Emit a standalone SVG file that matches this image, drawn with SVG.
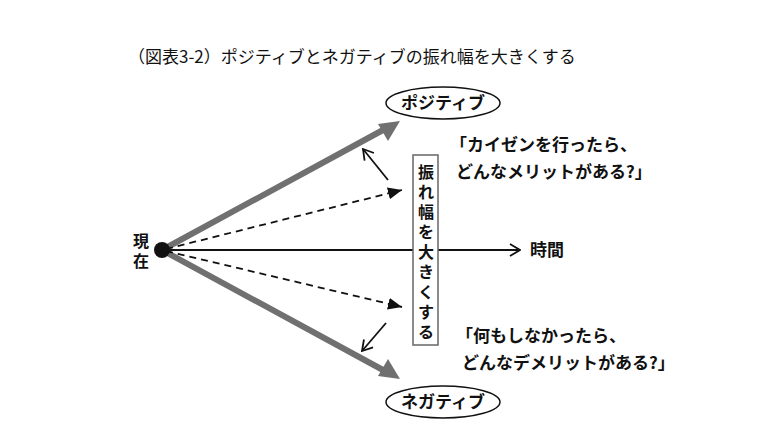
<svg xmlns="http://www.w3.org/2000/svg" width="780" height="438" viewBox="0 0 780 438">
<style>
text{font-family:"Noto Sans CJK JP","Noto Sans CJK SC",sans-serif;fill:#111;font-weight:bold}
.t{font-size:17px}
.v{font-size:16px;text-anchor:middle}
.g{stroke:#707070;stroke-width:6;fill:none}
.d{stroke:#111;stroke-width:1.8;stroke-dasharray:7 5;fill:none}
.s{stroke:#111;stroke-width:1.8;fill:none}
</style>
<defs>
<marker id="da" markerWidth="14" markerHeight="12" refX="14" refY="6" orient="auto" markerUnits="userSpaceOnUse"><path d="M0,0L14,6L0,12z" fill="#111"/></marker>
<marker id="oa" markerWidth="12" markerHeight="14" refX="11" refY="7" orient="auto" markerUnits="userSpaceOnUse"><path d="M1,1L11,7L1,13" fill="none" stroke="#111" stroke-width="1.8"/></marker>
</defs>
<rect width="780" height="438" fill="#fff"/>
<text x="128" y="63" class="t" style="font-weight:normal">（図表3-2）ポジティブとネガティブの振れ幅を大きくする</text>
<g id="connectors">
<line x1="162" y1="250" x2="520" y2="250" class="s" marker-end="url(#oa)"/>
<path d="M162,250L383,130" class="g"/>
<path d="M378,124L400,121L388,141z" fill="#707070"/>
<path d="M162,250L383,370" class="g"/>
<path d="M378,376L400,379L388,359z" fill="#707070"/>
<line x1="166" y1="249" x2="402" y2="190" class="d" marker-end="url(#da)"/>
<line x1="166" y1="251" x2="402" y2="307" class="d" marker-end="url(#da)"/>
<line x1="388" y1="180" x2="363" y2="149" class="s" marker-end="url(#oa)"/>
<line x1="386" y1="323" x2="362" y2="351" class="s" marker-end="url(#oa)"/>
</g>
<g id="now"><circle cx="162" cy="250" r="8" fill="#111"/>
<text x="141" y="247" font-size="16" text-anchor="middle">現</text><text x="141" y="267" font-size="16" text-anchor="middle">在</text></g>
<g id="positive"><ellipse cx="443" cy="103" rx="57" ry="16" fill="#fff" stroke="#111" stroke-width="1.5"/><text x="443" y="109" class="t" text-anchor="middle">ポジティブ</text></g>
<g id="negative"><ellipse cx="443" cy="402" rx="57" ry="16" fill="#fff" stroke="#111" stroke-width="1.5"/><text x="443" y="408" class="t" text-anchor="middle">ネガティブ</text></g>
<g id="box"><rect x="413" y="155" width="25" height="190" fill="#fff" stroke="#666" stroke-width="1.5"/>
<text x="426" class="v"><tspan x="426" y="178">振</tspan><tspan x="426" y="198">れ</tspan><tspan x="426" y="218">幅</tspan><tspan x="426" y="238">を</tspan><tspan x="426" y="258">大</tspan><tspan x="426" y="278">き</tspan><tspan x="426" y="298">く</tspan><tspan x="426" y="318">す</tspan><tspan x="426" y="338">る</tspan></text></g>
<g id="time"><text x="530" y="256" class="t">時間</text></g>
<g id="q1"><text x="450" y="151" class="t">「カイゼンを行ったら、</text><text x="456" y="178" class="t">どんなメリットがある?」</text></g>
<g id="q2"><text x="456" y="342" class="t">「何もしなかったら、</text><text x="462" y="369" class="t">どんなデメリットがある?」</text></g>
</svg>
